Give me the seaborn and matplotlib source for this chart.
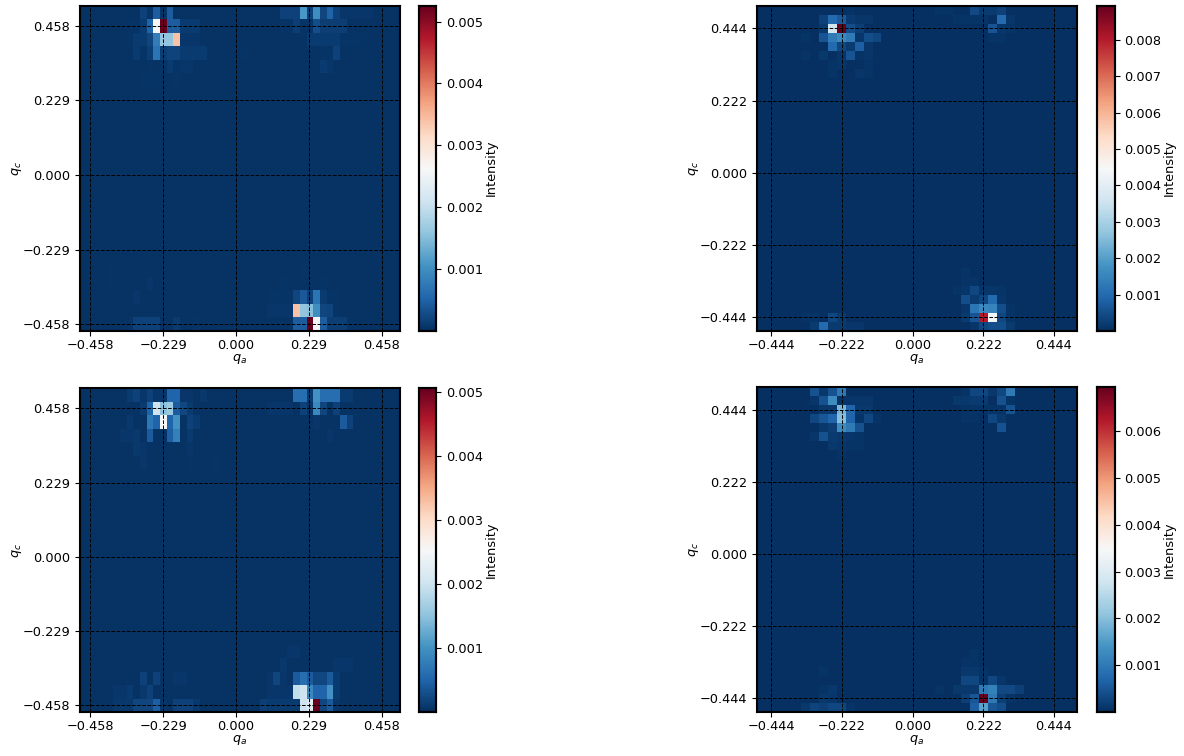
import numpy as np
import matplotlib
matplotlib.use('Agg')
import matplotlib.pyplot as plt
import seaborn as sns

# intensity cells: (row, col, intensity in 1e-3), row 0 = top
panel1 = [
    (0,9,.17),(0,10,.06),(0,11,.45),(0,12,.06),(0,13,.45),(0,30,.17),(0,31,.17),(0,32,.17),(0,33,1.1),(0,34,.17),(0,35,1.0),
    (0,36,.22),(0,37,.5),(0,38,.17),(0,39,.08),(0,40,.08),(0,41,.08),(0,42,.08),(0,43,.08),
    (1,7,.06),(1,8,.06),(1,9,.11),(1,10,.5),(1,11,2.6),(1,12,5.25),(1,13,.45),(1,14,.45),(1,15,.11),(1,16,.11),(1,17,.11),
    (1,30,.05),(1,31,.05),(1,32,.14),(1,33,.06),(1,34,.06),(1,35,.3),(1,36,.14),(1,37,.14),(1,38,.14),(1,39,.14),
    (2,7,.05),(2,8,.11),(2,9,.11),(2,10,.22),(2,11,.8),(2,12,1.6),(2,13,1.6),(2,14,3.4),(2,15,.08),(2,16,.08),(2,17,.08),
    (2,34,.11),(2,35,.11),(2,36,.11),(2,37,.11),(2,38,.11),(2,39,.06),(2,40,.06),(2,41,.06),(2,42,.06),
    (3,8,.11),(3,9,.06),(3,10,.14),(3,11,.7),(3,12,.14),(3,13,.2),(3,14,.2),(3,15,.11),(3,16,.11),(3,17,.11),(3,18,.11),
    (3,24,.06),(3,36,.06),(3,37,.06),(3,38,.17),
    (4,10,.06),(4,12,.06),(4,13,.11),(4,14,.06),(4,15,.08),(4,16,.08),(4,36,.11),(4,37,.08),
    (5,9,.05),(5,10,.05),(5,11,.05),(5,14,.06),
    (19,4,.06),(19,33,.05),
    (20,4,.05),(20,10,.07),(20,30,.06),(20,36,.06),
    (21,8,.08),(21,28,.06),(21,29,.06),(21,30,.06),(21,31,.06),(21,32,.22),(21,33,.4),(21,34,.17),(21,35,.7),(21,36,.11),(21,37,.06),(21,38,.06),
    (22,28,.08),(22,29,.08),(22,30,.08),(22,31,.08),(22,32,3.4),(22,33,1.6),(22,34,1.5),(22,35,1.0),(22,36,.22),(22,37,.2),(22,38,.06),
    (23,7,.06),(23,8,.17),(23,9,.17),(23,10,.17),(23,11,.17),(23,14,.11),(23,17,.06),(23,32,.45),(23,33,.45),(23,34,5.25),(23,35,2.6),
    (23,36,.45),(23,37,.14),(23,38,.14),(23,39,.14),(23,40,.06),
]
panel2 = [
    (0,10,.08),(0,20,.08),(0,21,.08),(0,24,.45),(0,25,.2),(0,26,.2),(0,27,.3),
    (1,7,.3),(1,8,1.0),(1,9,.7),(1,10,.2),(1,11,.12),(1,12,.12),(1,22,.1),(1,23,.1),(1,24,.1),(1,25,.1),(1,27,1.0),(1,28,.12),
    (2,7,.2),(2,8,3.6),(2,9,8.94),(2,10,.5),(2,11,.25),(2,26,.6),(2,27,.12),(2,28,.08),
    (3,5,.1),(3,7,.6),(3,8,1.3),(3,9,1.6),(3,10,1.3),(3,11,.12),(3,12,.5),(3,13,.4),(3,26,.08),(3,27,.08),
    (4,8,1.0),(4,9,.4),(4,10,.2),(4,11,.8),(4,12,.12),
    (5,5,.1),(5,7,.15),(5,9,.12),(5,10,.6),(5,11,.1),(5,12,.12),
    (6,8,.08),(6,9,.12),(6,12,.1),
    (7,8,.08),(7,11,.12),(7,12,.08),
    (29,23,.08),
    (30,23,.1),(30,24,.1),
    (31,22,.08),(31,23,.12),(31,24,.4),(31,25,.12),(31,26,.12),(31,27,.1),
    (32,23,.5),(32,24,.2),(32,25,.4),(32,26,1.0),(32,27,.12),
    (33,23,.12),(33,24,1.2),(33,25,1.6),(33,26,1.5),(33,27,.5),(33,28,.1),
    (34,5,.08),(34,6,.1),(34,8,.4),(34,9,.2),(34,23,.2),(34,24,.6),(34,25,8.0),(34,26,4.4),(34,27,.4),(34,28,.08),
    (35,6,.2),(35,7,1.0),(35,8,.2),(35,9,.2),(35,10,.12),(35,11,.12),(35,24,.12),(35,25,.4),(35,26,.5),(35,27,.5),(35,28,.2),
]
panel3 = [
    (0,7,.11),(0,8,.17),(0,9,.06),(0,10,.17),(0,11,.06),(0,12,.06),(0,13,.5),(0,14,.5),(0,15,.06),(0,16,.06),(0,18,.08),
    (0,32,.6),(0,33,.6),(0,34,.11),(0,35,1.0),(0,36,.6),(0,37,.6),(0,38,.6),(0,39,.11),(0,40,.11),
    (1,9,.11),(1,10,.5),(1,11,2.0),(1,12,1.5),(1,13,1.6),(1,14,.4),(1,15,.22),(1,16,.11),(1,28,.06),(1,29,.06),(1,30,.06),(1,31,.06),
    (1,33,.17),(1,35,.9),(1,36,.2),(1,38,.17),
    (2,7,.08),(2,10,.7),(2,11,.5),(2,12,2.5),(2,13,.5),(2,14,1.0),(2,16,.17),(2,17,.11),(2,35,.06),(2,39,.4),(2,40,.17),
    (3,6,.06),(3,7,.06),(3,8,.08),(3,10,.4),(3,13,.45),(3,14,.8),(3,16,.11),(3,37,.06),
    (4,8,.08),(4,9,.06),(4,16,.06),
    (5,9,.06),(5,16,.04),(5,20,.05),
    (19,31,.06),(19,32,.06),
    (20,30,.08),(20,38,.06),(20,39,.06),(20,40,.06),
    (21,9,.17),(21,11,.17),(21,14,.06),(21,15,.06),(21,28,.06),(21,29,.2),(21,30,.06),(21,32,.4),(21,33,.6),(21,34,.4),(21,35,.22),(21,36,.22),(21,37,.4),(21,38,.11),
    (22,5,.06),(22,6,.06),(22,7,.11),(22,9,.08),(22,10,.17),(22,28,.06),(22,29,.06),(22,30,.06),(22,31,.06),(22,32,1.9),(22,33,2.0),(22,34,.9),(22,35,.5),(22,36,.5),(22,37,1.0),(22,38,.11),
    (23,5,.08),(23,6,.08),(23,7,.08),(23,8,.2),(23,9,.2),(23,10,.2),(23,11,.45),(23,12,.06),(23,14,.17),(23,15,.17),(23,16,.17),(23,17,.08),
    (23,27,.14),(23,28,.11),(23,29,.11),(23,30,.11),(23,31,.11),(23,32,.11),(23,33,2.0),(23,34,2.2),(23,35,5.05),(23,36,.22),(23,37,.4),(23,38,.06),
]
panel4 = [
    (0,6,.45),(0,7,.12),(0,8,.45),(0,9,1.0),(0,23,.08),(0,24,.3),(0,25,.3),(0,26,.12),(0,27,.3),(0,28,1.0),
    (1,6,.1),(1,7,.45),(1,8,1.3),(1,9,.08),(1,10,.1),(1,11,.1),(1,12,.1),(1,22,.12),(1,23,.12),(1,24,.15),(1,25,.15),(1,27,.45),(1,28,.08),
    (2,7,.12),(2,8,.12),(2,9,1.9),(2,10,.7),(2,11,.12),(2,12,.12),(2,23,.08),(2,24,.08),(2,25,.08),(2,26,.08),(2,27,.08),(2,28,.45),
    (3,6,.3),(3,7,.5),(3,8,.7),(3,9,2.0),(3,10,.7),(3,11,.08),(3,12,.3),(3,13,.08),(3,23,.08),(3,24,.08),(3,26,.3),(3,27,.12),
    (4,7,.12),(4,8,.2),(4,9,1.3),(4,10,1.0),(4,11,.45),(4,27,.45),
    (5,6,.1),(5,7,.45),(5,8,.15),(5,9,.12),(5,10,.1),(5,11,.08),
    (6,8,.12),(6,9,.1),(6,10,.08),(6,11,.08),
    (7,9,.06),
    (29,24,.06),
    (30,23,.08),(30,24,.08),
    (31,7,.08),(31,23,.12),(31,24,.12),(31,25,.08),
    (32,23,.3),(32,24,.3),(32,25,.08),(32,26,.3),(32,27,.1),
    (33,7,.08),(33,8,.12),(33,20,.08),(33,22,.12),(33,23,.12),(33,24,.12),(33,25,1.0),(33,26,1.1),(33,27,.35),(33,28,.35),(33,29,.2),
    (34,7,.12),(34,8,.1),(34,23,.2),(34,24,.5),(34,25,6.95),(34,26,1.0),(34,27,.2),(34,28,.08),
    (35,5,.12),(35,6,.25),(35,7,.2),(35,8,.3),(35,9,.3),(35,10,.08),(35,24,.6),(35,25,1.6),(35,26,.5),(35,27,.4),
]
background = 0.025
vmaxes = [5.26, 8.94, 5.06, 6.95]
ticks_left = [-0.458, -0.229, 0.0, 0.229, 0.458]
ticks_right = [-0.444, -0.222, 0.0, 0.222, 0.444]
cbar_ticks = [[1,2,3,4,5], [1,2,3,4,5,6,7,8], [1,2,3,4,5], [1,2,3,4,5,6]]

W, H = 1184, 756
FS = 9.3
def box(x0, y0, x1, y1):
    return [x0/W, 1-y1/H, (x1-x0)/W, (y1-y0)/H]

def grid(cells, rows, cols):
    g = np.full((rows, cols), background)
    for r, c, v in cells:
        g[r, c] = v
    return g * 1e-3

fig = plt.figure(figsize=(W/100, H/100), dpi=100)

panels = [
    (panel1, 24, 48, ticks_left,  (80,5.5,400,331),  (418.5,5.5,436.5,331),  (23.4,47.76), (12.5,24.0)),
    (panel2, 36, 36, ticks_right, (757,5.5,1077,331), (1096.5,5.5,1114.5,331), (17.5,35.8), (18.5,36.0)),
    (panel3, 24, 48, ticks_left,  (80,388,400,712),  (418.5,388,436.5,712),  (23.4,47.76), (12.5,24.0)),
    (panel4, 36, 36, ticks_right, (757,387,1077,712), (1096.5,387,1114.5,712), (17.5,35.8), (18.5,36.0)),
]

for i, (cells, rows, cols, tk, axb, cb, xmap, ymap) in enumerate(panels):
    ax = fig.add_axes(box(*axb))
    cax = fig.add_axes(box(*cb))
    sns.heatmap(grid(cells, rows, cols), cmap='RdBu_r', vmin=0, vmax=vmaxes[i]*1e-3, ax=ax, cbar_ax=cax,
                xticklabels=False, yticklabels=False, cbar_kws={'label': 'Intensity'})
    labels = ['%.3f' % t for t in tk]
    labels = [l.replace('-', '\u2212') for l in labels]
    ax.set_xticks([xmap[0] + xmap[1]*t for t in tk])
    ax.set_xticklabels(labels, rotation=0, fontsize=FS)
    ax.set_yticks([ymap[0] - ymap[1]*t for t in tk])
    ax.set_yticklabels(labels, rotation=0, fontsize=FS)
    ax.set_xlabel('$q_a$', fontsize=FS, labelpad=0)
    ax.set_ylabel('$q_c$', fontsize=FS, labelpad=-1)
    ax.tick_params(axis='x', length=3.5, width=0.8, pad=2.5)
    ax.tick_params(axis='y', length=3.5, width=0.8)
    ax.grid(True, color='black', linestyle='--', linewidth=0.7)
    ax.set_axisbelow(False)
    for s in ax.spines.values():
        s.set_visible(True)
        s.set_linewidth(1.5)
        s.set_color('black')
    cax.set_yticks([v*1e-3 for v in cbar_ticks[i]])
    cax.set_yticklabels(['%.3f' % (v*1e-3) for v in cbar_ticks[i]], fontsize=FS)
    cax.tick_params(length=3.5, width=0.8)
    cax.set_ylabel('Intensity', fontsize=FS, labelpad=1)
    for s in cax.spines.values():
        s.set_visible(True)
        s.set_linewidth(1.5)
        s.set_color('black')

fig.savefig('out.png', dpi=100)
